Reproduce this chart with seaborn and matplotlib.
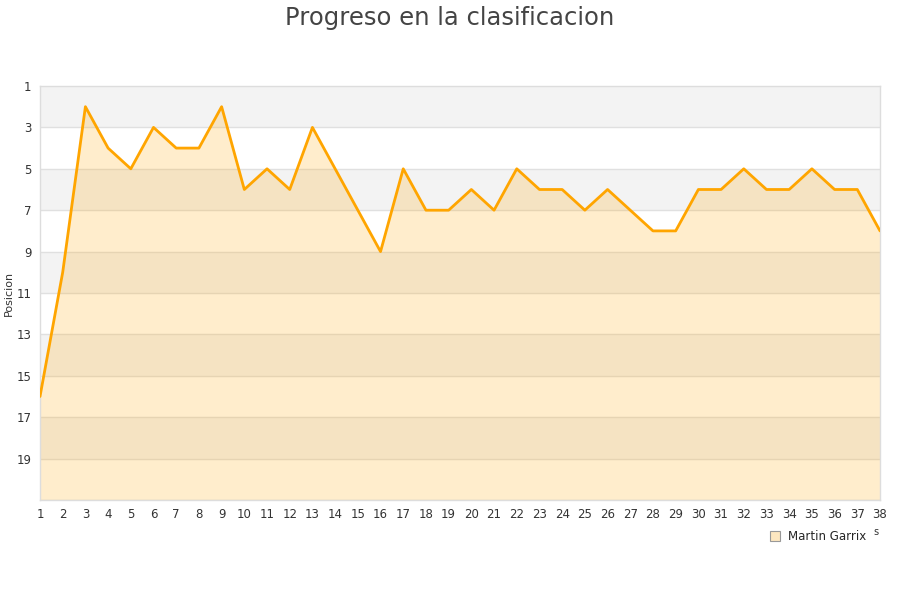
import numpy as np
import pandas as pd
import matplotlib
matplotlib.use("Agg")
import matplotlib.pyplot as plt
from matplotlib.lines import Line2D
import seaborn as sns

jornadas = list(range(1, 39))
posiciones = [16, 10, 2, 4, 5, 3, 4, 4, 2, 6, 5, 6, 3, 5, 7, 9, 5, 7, 7, 6,
              7, 5, 6, 6, 7, 6, 7, 8, 8, 6, 6, 5, 6, 6, 5, 6, 6, 8]
jugador = "Martin Garrix"
y_ticks = [1, 3, 5, 7, 9, 11, 13, 15, 17, 19]

df = pd.DataFrame({"Jornada": jornadas, "Posicion": posiciones})

sns.set_theme(style="white")
plt.rcParams["font.family"] = ["DejaVu Sans"]

fig = plt.figure(figsize=(9, 6), dpi=100)
ax = fig.add_axes([40 / 900, 1 - 500 / 600, 840 / 900, 414 / 600])

# alternating horizontal bands
for i, lo in enumerate(range(1, 21, 2)):
    if i % 2 == 0:
        ax.axhspan(lo, lo + 2, color="#f3f3f3", zorder=0, lw=0)
for t in y_ticks[1:] + [21]:
    ax.axhline(t, color="#e0e0e0", lw=1, zorder=1)

ax.fill_between(df["Jornada"], df["Posicion"], 21, color="#ffa500", alpha=0.2,
                lw=0, zorder=2)
sns.lineplot(data=df, x="Jornada", y="Posicion", color="#ffa500", lw=2,
             ax=ax, zorder=3)

ax.set_xlim(1, 38)
ax.set_ylim(21, 1)
ax.set_xticks(jornadas)
ax.set_yticks(y_ticks)
ax.tick_params(axis="both", labelsize=8.5, colors="#333333", length=0, pad=6)
ax.set_xlabel("")
ax.set_ylabel("Posicion", fontsize=8, color="#333333")
ax.yaxis.set_label_coords(-26 / 840, 0.5)
for s in ax.spines.values():
    s.set_color("#dddddd")
    s.set_linewidth(1)

fig.suptitle("Progreso en la clasificacion", fontsize=17.5, color="#444444",
             y=0.99)

handle = Line2D([], [], marker="s", ls="", markersize=7,
                markerfacecolor="#fde7c0", markeredgecolor="#999999",
                markeredgewidth=0.8)
fig.legend([handle], [jugador], loc="center left",
           bbox_to_anchor=(758 / 900, 1 - 537 / 600), frameon=False,
           fontsize=8.5, handletextpad=0.6, handlelength=1)
fig.text(876 / 900, 1 - 532 / 600, "s", fontsize=7, color="#333333",
         ha="center", va="center")

fig.savefig("out.png", dpi=100)
